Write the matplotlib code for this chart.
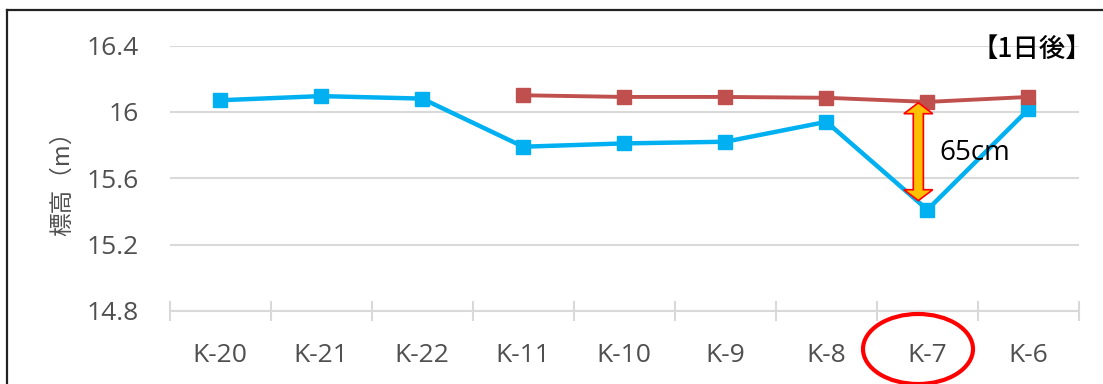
import numpy as np
import matplotlib
matplotlib.use("Agg")
import matplotlib.pyplot as plt
from matplotlib.patches import Ellipse, Polygon
from matplotlib.lines import Line2D

# survey points along the embankment
stations = ["K-20", "K-21", "K-22", "K-11", "K-10", "K-9", "K-8", "K-7", "K-6"]
# crest elevation after one day (m)
after_1day = [16.07, 16.095, 16.08, 15.79, 15.81, 15.82, 15.94, 15.41, 16.015]
# reference elevation, only surveyed from K-11 onward
before = [np.nan, np.nan, np.nan, 16.10, 16.09, 16.09, 16.085, 16.06, 16.09]
yticks = [14.8, 15.2, 15.6, 16.0, 16.4]
ytick_labels = ["14.8", "15.2", "15.6", "16", "16.4"]
drop_label = "65cm"
title = "【1日後】"
ylabel = "標高（m）"

BLUE = "#00B0F0"
RED = "#C0504D"
GRID = "#D9D9D9"
TXT = "#505050"
LATIN = ["Open Sans", "DejaVu Sans"]
CJK = ["Noto Sans CJK JP", "DejaVu Sans"]

W, H = 1103, 384
fig = plt.figure(figsize=(W / 100, H / 100), dpi=100)
ax = fig.add_axes([169.5 / W, 73 / H, (1079 - 169.5) / W, (311 - 45.5) / H])

x = np.arange(len(stations))
ax.plot(x, after_1day, color=BLUE, lw=3.2, marker="s", ms=10, zorder=3)
ax.plot(x, before, color=RED, lw=2.8, marker="s", ms=10, zorder=3)

ax.set_xlim(-0.5, len(stations) - 0.5)
ax.set_ylim(yticks[0], yticks[-1])
ax.set_yticks(yticks)
ax.set_yticklabels(ytick_labels, family=LATIN, fontsize=19, color=TXT)
ax.set_xticks(x)
ax.set_xticklabels(stations, family=LATIN, fontsize=19, color=TXT)
ax.set_xticks(np.arange(-0.5, len(stations)), minor=True)

ax.grid(axis="y", color=GRID, lw=1.5)
ax.set_axisbelow(True)
for s in ["top", "right", "left"]:
    ax.spines[s].set_visible(False)
ax.spines["bottom"].set_color(GRID)
ax.spines["bottom"].set_linewidth(1.5)
ax.tick_params(axis="y", length=0, pad=22)
ax.tick_params(axis="x", which="major", length=0, pad=23)
ax.tick_params(axis="x", which="minor", direction="inout", length=14, width=1.5, color=GRID)

ax.set_ylabel(ylabel, family=CJK, fontsize=17, color=TXT, labelpad=9)

# double-headed arrow showing the settlement at K-7
i = stations.index("K-7")
ax_x = i - 0.09
top = before[i] - 0.005
bot = after_1day[i] + 0.055
sw, hw, hl = 0.05, 0.143, 0.066
verts = [
    (ax_x, top), (ax_x + hw, top - hl), (ax_x + sw, top - hl),
    (ax_x + sw, bot + hl), (ax_x + hw, bot + hl), (ax_x, bot),
    (ax_x - hw, bot + hl), (ax_x - sw, bot + hl), (ax_x - sw, top - hl),
    (ax_x - hw, top - hl),
]
ax.add_patch(Polygon(verts, closed=True, facecolor="#FFC000", edgecolor="#FF0000", lw=1.2, zorder=4))
ax.text(i + 0.12, (before[i] + after_1day[i]) / 2 + 0.02, drop_label, family=LATIN,
        fontsize=20, color="black", va="center", ha="left", zorder=5)

ax.text(1.014, 0.985, title, transform=ax.transAxes, family=CJK, fontsize=19,
        fontweight="medium", color="black", ha="right", va="center")

# red ring around the K-7 label
fig.add_artist(Ellipse((918 / W, 1 - 349 / H), 110 / W, 70 / H, transform=fig.transFigure,
                       fill=False, edgecolor="#FF0000", lw=3))

# chart frame (top and left edges)
fig.add_artist(Line2D([7 / W, 1], [1 - 10 / H, 1 - 10 / H], transform=fig.transFigure, color="#222222", lw=1.6))
fig.add_artist(Line2D([7 / W, 7 / W], [0, 1 - 10 / H], transform=fig.transFigure, color="#222222", lw=1.6))

fig.savefig("out.png", dpi=100)
